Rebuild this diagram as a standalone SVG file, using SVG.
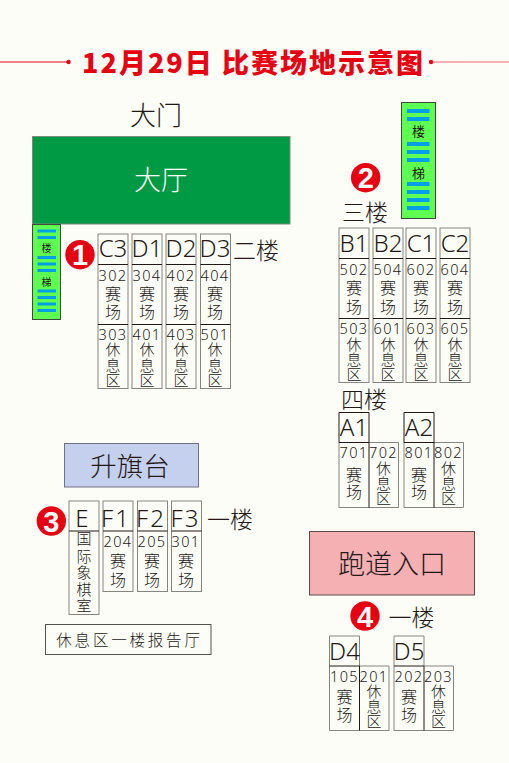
<svg xmlns="http://www.w3.org/2000/svg" width="509" height="763" viewBox="0 0 509 763">
<style>
text{font-family:"Noto Sans CJK SC","Noto Sans",sans-serif;text-anchor:middle;dominant-baseline:central;fill:#231815}
.box{fill:none;stroke:#85847e;stroke-width:1}
.div{fill:none;stroke:#231815;stroke-width:1}
.lab{font-size:24px;font-family:"Noto Sans","Noto Sans CJK SC",sans-serif;font-weight:300}
.f{letter-spacing:2px}
.num{font-size:14.5px;letter-spacing:1.4px;font-family:"Noto Sans",sans-serif;font-weight:300}
.cn{font-size:16px;font-weight:300;transform:translateY(-1.500px)}
.rest{font-size:15px;font-weight:300;transform:translateY(-1.500px)}
.fl{font-size:23px;font-weight:300}
.bar{fill:#00a0e9}
.st{fill:#5eff52;stroke:#40483c;stroke-width:1}
.badge{fill:#e60012}
.bt{fill:#fff;font-family:"Liberation Sans",sans-serif;font-weight:bold;font-size:29px}
.red{fill:#e60012;stroke:none}
</style>
<rect width="509" height="763" fill="#fdfdf8"/>
<g id="title">
<rect class="red" x="0" y="61.5" width="68" height="1"/><circle class="red" cx="68.5" cy="62" r="2.2"/>
<rect class="red" x="431" y="61.5" width="78" height="1" opacity=".6"/><circle class="red" cx="431" cy="62" r="2.2"/>
<text x="253.500" y="61" style="fill:#e60012;font-weight:900;font-size:27px;letter-spacing:2px">12月29日 比赛场地示意图</text>
</g>
<g id="gate"><text x="156" y="113" style="font-size:26px;font-weight:300">大门</text></g>
<g id="hall"><rect x="32.5" y="136.5" width="257.5" height="87.5" fill="#009a44" stroke="#7c8a7f"/><text x="161" y="178" style="font-size:27px;fill:#fff;font-weight:300">大厅</text></g>
<g id="stair-small"><rect class="st" x="32.5" y="224.5" width="28" height="95"/>
<rect class="bar" x="37.5" y="229.5" width="18.500" height="3"/><rect class="bar" x="37.5" y="236" width="18.500" height="3"/>
<text x="46.500" y="247" style="font-size:10px">楼</text>
<rect class="bar" x="37.5" y="256" width="18.500" height="3"/><rect class="bar" x="37.5" y="262.500" width="18.500" height="3"/><rect class="bar" x="37.5" y="269" width="18.500" height="3"/>
<text x="46.500" y="281" style="font-size:10px">梯</text>
<rect class="bar" x="37.5" y="289.500" width="18.500" height="3"/><rect class="bar" x="37.5" y="296" width="18.500" height="3"/><rect class="bar" x="37.5" y="302.500" width="18.500" height="3"/><rect class="bar" x="37.5" y="309" width="18.500" height="3"/>
</g>
<g id="stair-large"><rect class="st" x="401.500" y="102.500" width="34" height="116"/>
<rect class="bar" x="407" y="109" width="22.500" height="4"/><rect class="bar" x="407" y="117" width="22.500" height="4"/>
<text x="418.500" y="130" style="font-size:13px">楼</text>
<rect class="bar" x="407" y="142" width="22.500" height="4"/><rect class="bar" x="407" y="150" width="22.500" height="4"/><rect class="bar" x="407" y="158" width="22.500" height="4"/>
<text x="418.500" y="172" style="font-size:13px">梯</text>
<rect class="bar" x="407" y="182" width="22.500" height="4"/><rect class="bar" x="407" y="190" width="22.500" height="4"/><rect class="bar" x="407" y="198" width="22.500" height="4"/><rect class="bar" x="407" y="206" width="22.500" height="4"/>
</g>
<g id="badges">
<circle class="badge" cx="80" cy="254.700" r="14.700"/><text class="bt" x="80" y="255">1</text>
<circle class="badge" cx="365.700" cy="177.700" r="14.700"/><text class="bt" x="365.700" y="178">2</text>
<circle class="badge" cx="51.300" cy="521" r="14.700"/><text class="bt" x="51.300" y="521.500">3</text>
<circle class="badge" cx="365" cy="616" r="14.700"/><text class="bt" x="365" y="616.500">4</text>
</g>
<g id="floors">
<text class="fl" x="256" y="249">二楼</text>
<text class="fl" x="365" y="210.500">三楼</text>
<text class="fl" x="364" y="397.500">四楼</text>
<text class="fl" x="230" y="517.500">一楼</text>
<text class="fl" x="411.500" y="615.500">一楼</text>
</g>
<g id="room-C3"><rect class="box" x="98" y="234" width="30" height="154.500"/><path class="div" d="M98 264.500H128M98 324.500H128"/>
<text class="lab" x="113" y="247.500">C3</text><text class="num" x="113" y="274.500">302</text><text class="cn" x="113" y="294">赛</text><text class="cn" x="113" y="312.500">场</text><text class="num" x="113" y="333.500">303</text><text class="rest" x="113" y="350">休</text><text class="rest" x="113" y="365.500">息</text><text class="rest" x="113" y="380.500">区</text></g>
<g id="room-D1"><rect class="box" x="132" y="234" width="30" height="154.500"/><path class="div" d="M132 264.500H162M132 324.500H162"/>
<text class="lab" x="147" y="247.500">D1</text><text class="num" x="147" y="274.500">304</text><text class="cn" x="147" y="294">赛</text><text class="cn" x="147" y="312.500">场</text><text class="num" x="147" y="333.500">401</text><text class="rest" x="147" y="350">休</text><text class="rest" x="147" y="365.500">息</text><text class="rest" x="147" y="380.500">区</text></g>
<g id="room-D2"><rect class="box" x="166" y="234" width="30" height="154.500"/><path class="div" d="M166 264.500H196M166 324.500H196"/>
<text class="lab" x="181" y="247.500">D2</text><text class="num" x="181" y="274.500">402</text><text class="cn" x="181" y="294">赛</text><text class="cn" x="181" y="312.500">场</text><text class="num" x="181" y="333.500">403</text><text class="rest" x="181" y="350">休</text><text class="rest" x="181" y="365.500">息</text><text class="rest" x="181" y="380.500">区</text></g>
<g id="room-D3"><rect class="box" x="200.500" y="234" width="30" height="154.500"/><path class="div" d="M200.500 264.500H230.500M200.500 324.500H230.500"/>
<text class="lab" x="215" y="247.500">D3</text><text class="num" x="215" y="274.500">404</text><text class="cn" x="215" y="294">赛</text><text class="cn" x="215" y="312.500">场</text><text class="num" x="215" y="333.500">501</text><text class="rest" x="215" y="350">休</text><text class="rest" x="215" y="365.500">息</text><text class="rest" x="215" y="380.500">区</text></g>
<g id="room-B1"><rect class="box" x="339" y="228" width="30" height="154.500"/><path class="div" d="M339 258.500H369M339 318.500H369"/>
<text class="lab" x="354" y="242">B1</text><text class="num" x="354" y="269">502</text><text class="cn" x="354" y="288.500">赛</text><text class="cn" x="354" y="307">场</text><text class="num" x="354" y="328">503</text><text class="rest" x="354" y="344.500">休</text><text class="rest" x="354" y="360">息</text><text class="rest" x="354" y="375">区</text></g>
<g id="room-B2"><rect class="box" x="373" y="228" width="30" height="154.500"/><path class="div" d="M373 258.500H403M373 318.500H403"/>
<text class="lab" x="388" y="242">B2</text><text class="num" x="388" y="269">504</text><text class="cn" x="388" y="288.500">赛</text><text class="cn" x="388" y="307">场</text><text class="num" x="388" y="328">601</text><text class="rest" x="388" y="344.500">休</text><text class="rest" x="388" y="360">息</text><text class="rest" x="388" y="375">区</text></g>
<g id="room-C1"><rect class="box" x="406" y="228" width="30" height="154.500"/><path class="div" d="M406 258.500H436M406 318.500H436"/>
<text class="lab" x="421" y="242">C1</text><text class="num" x="421" y="269">602</text><text class="cn" x="421" y="288.500">赛</text><text class="cn" x="421" y="307">场</text><text class="num" x="421" y="328">603</text><text class="rest" x="421" y="344.500">休</text><text class="rest" x="421" y="360">息</text><text class="rest" x="421" y="375">区</text></g>
<g id="room-C2"><rect class="box" x="440" y="228" width="30" height="154.500"/><path class="div" d="M440 258.500H470M440 318.500H470"/>
<text class="lab" x="455" y="242">C2</text><text class="num" x="455" y="269">604</text><text class="cn" x="455" y="288.500">赛</text><text class="cn" x="455" y="307">场</text><text class="num" x="455" y="328">605</text><text class="rest" x="455" y="344.500">休</text><text class="rest" x="455" y="360">息</text><text class="rest" x="455" y="375">区</text></g>
<g id="room-A1"><path class="box" d="M339 442.500V507.500H398.500V442.500H369"/><path class="div" d="M339 442.500V412.500H369V507.500M339 442.500H369"/>
<text class="lab" x="354" y="426.500">A1</text><text class="num" x="354" y="451.500">701</text><text class="cn" x="354" y="475">赛</text><text class="cn" x="354" y="492">场</text><text class="num" x="383.500" y="451.500">702</text><text class="rest" x="383.500" y="469">休</text><text class="rest" x="383.500" y="484">息</text><text class="rest" x="383.500" y="499">区</text></g>
<g id="room-A2"><path class="box" d="M404 442.500V507.500H463.500V442.500H434"/><path class="div" d="M404 442.500V412.500H434V507.500M404 442.500H434"/>
<text class="lab" x="419" y="426.500">A2</text><text class="num" x="419" y="451.500">801</text><text class="cn" x="419" y="475">赛</text><text class="cn" x="419" y="492">场</text><text class="num" x="448.500" y="451.500">802</text><text class="rest" x="448.500" y="469">休</text><text class="rest" x="448.500" y="484">息</text><text class="rest" x="448.500" y="499">区</text></g>
<g id="flag"><rect x="64.500" y="443.500" width="134" height="43.500" fill="#c5d0ef" stroke="#6f7383"/><text x="130" y="464" style="font-size:26.500px;font-weight:300">升旗台</text></g>
<g id="room-E"><rect class="box" x="69" y="501" width="30" height="113.500"/><path class="div" d="M69 531H99"/>
<text class="lab" x="82" y="517.500">E</text><text class="rest" x="84" y="539">国</text><text class="rest" x="84" y="557">际</text><text class="rest" x="84" y="573">象</text><text class="rest" x="84" y="590">棋</text><text class="rest" x="84" y="606">室</text></g>
<g id="room-F1"><rect class="box" x="103" y="501" width="30" height="90.500"/><path class="div" d="M103 531H133"/>
<text class="lab f" x="116" y="517.500">F1</text><text class="num" x="118" y="541">204</text><text class="cn" x="118" y="561.500">赛</text><text class="cn" x="118" y="580">场</text></g>
<g id="room-F2"><rect class="box" x="137.500" y="501" width="30" height="90.500"/><path class="div" d="M137.500 531H167.500"/>
<text class="lab f" x="151" y="517.500">F2</text><text class="num" x="152" y="541">205</text><text class="cn" x="152" y="561.500">赛</text><text class="cn" x="152" y="580">场</text></g>
<g id="room-F3"><rect class="box" x="171.500" y="501" width="30" height="90.500"/><path class="div" d="M171.500 531H201.500"/>
<text class="lab f" x="185.500" y="517.500">F3</text><text class="num" x="186" y="541">301</text><text class="cn" x="186" y="561.500">赛</text><text class="cn" x="186" y="580">场</text></g>
<g id="report"><rect x="45.500" y="624.500" width="165.500" height="30" fill="none" stroke="#54534f"/><text x="129.500" y="638.500" style="font-size:15.500px;letter-spacing:2.800px;font-weight:300">休息区一楼报告厅</text></g>
<g id="track"><rect x="309.500" y="531.500" width="165" height="63.500" fill="#f4b0b3" stroke="#5b4a4a"/><text x="392" y="562" style="font-size:27px;font-weight:300">跑道入口</text></g>
<g id="room-D4"><path class="box" d="M329.500 666V730.500H389V666H359.500M329.500 666V636H359.500V666"/><path class="div" d="M329.500 666H359.500V730.500"/>
<text class="lab" x="344.500" y="650">D4</text><text class="num" x="344.500" y="676">105</text><text class="cn" x="344.500" y="697.500">赛</text><text class="cn" x="344.500" y="715.500">场</text><text class="num" x="374" y="676">201</text><text class="rest" x="374" y="691.500">休</text><text class="rest" x="374" y="706.500">息</text><text class="rest" x="374" y="721.500">区</text></g>
<g id="room-D5"><path class="box" d="M394 666V730.500H453.500V666H424M394 666V636H424V666"/><path class="div" d="M394 666H424V730.500"/>
<text class="lab" x="409" y="650">D5</text><text class="num" x="409" y="676">202</text><text class="cn" x="409" y="697.500">赛</text><text class="cn" x="409" y="715.500">场</text><text class="num" x="438.500" y="676">203</text><text class="rest" x="438.500" y="691.500">休</text><text class="rest" x="438.500" y="706.500">息</text><text class="rest" x="438.500" y="721.500">区</text></g>
</svg>
